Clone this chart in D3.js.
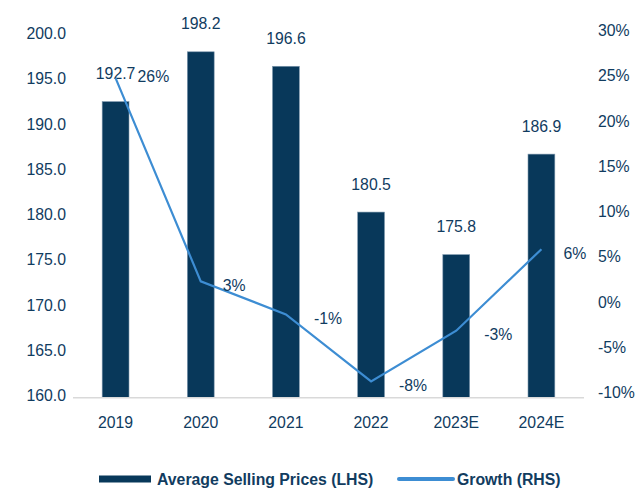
<!DOCTYPE html>
<html><head><meta charset="utf-8">
<script src="https://cdn.jsdelivr.net/npm/d3@7"></script>
<style>html,body{margin:0;padding:0;background:#fff;}svg{display:block;font-family:"Liberation Sans",Arial,Helvetica,sans-serif;}</style>
</head><body>
<svg id="c" width="636" height="489"></svg>
<script>
const categories = ["2019","2020","2021","2022","2023E","2024E"];
const prices = [192.7,198.2,196.6,180.5,175.8,186.9];
const growth = [25.3,2.85,-0.8,-8.2,-2.6,6.4];
const growthLabels = ["26%","3%","-1%","-8%","-3%","6%"];
const leftTicks = [160,165,170,175,180,185,190,195,200];
const rightTicks = [-10,-5,0,5,10,15,20,25,30];

const navy = "#08385a", blue = "#3d8dd3", txt = "#113c5f";
const fs = "15.8px";
const svg = d3.select("#c");
const plotTop = 35.5, plotBottom = 397.7, plotLeft = 73, plotRight = 584;

const x = d3.scaleBand().domain(categories).range([plotLeft, plotRight]).padding(0);
const yL = d3.scaleLinear().domain([160,200]).range([plotBottom, plotTop]);
const yR = d3.scaleLinear().domain([-10,30]).range([plotBottom, plotTop]);
const bw = x.bandwidth()*0.315;
const cx = d => x(d) + x.bandwidth()/2;

// left axis labels
svg.append("g").selectAll("text").data(leftTicks).join("text")
  .attr("x", 66).attr("y", d => yL(d) - 2).attr("dy","0.35em")
  .attr("text-anchor","end").attr("font-size",fs).attr("fill",txt)
  .text(d => d3.format(".1f")(d));
// right axis labels
svg.append("g").selectAll("text").data(rightTicks).join("text")
  .attr("x", 598).attr("y", d => yR(d) - 5).attr("dy","0.35em")
  .attr("text-anchor","start").attr("font-size",fs).attr("fill",txt)
  .text(d => d + "%");

// bars
svg.append("g").selectAll("rect").data(prices).join("rect")
  .attr("x", (d,i) => cx(categories[i]) - bw/2)
  .attr("y", d => yL(d))
  .attr("width", bw)
  .attr("height", d => yL(160) - yL(d))
  .attr("fill", navy).attr("stroke","#7d97ad").attr("stroke-width",0.6);

// baseline
svg.append("line").attr("x1", plotLeft).attr("x2", plotRight)
  .attr("y1", plotBottom).attr("y2", plotBottom)
  .attr("stroke","#d9d9d9").attr("stroke-width",1.5);

// bar value labels
svg.append("g").selectAll("text").data(prices).join("text")
  .attr("x", (d,i) => cx(categories[i]))
  .attr("y", d => yL(d) - 28).attr("dy","0.35em")
  .attr("text-anchor","middle").attr("font-size",fs).attr("fill",txt)
  .text(d => d3.format(".1f")(d));

// growth line
const line = d3.line().x((d,i) => cx(categories[i])).y(d => yR(d));
svg.append("path").datum(growth).attr("d", line)
  .attr("fill","none").attr("stroke",blue).attr("stroke-width",2.2);

// growth labels
svg.append("g").selectAll("text").data(growth).join("text")
  .attr("x", (d,i) => cx(categories[i]) + (d < 0 ? 28 : 22))
  .attr("y", (d,i) => yR(d) + (i === 0 ? -2 : 4)).attr("dy","0.35em")
  .attr("text-anchor","start").attr("font-size",fs).attr("fill",txt)
  .text((d,i) => growthLabels[i]);

// category labels
svg.append("g").selectAll("text").data(categories).join("text")
  .attr("x", d => cx(d)).attr("y", 422).attr("dy","0.35em")
  .attr("text-anchor","middle").attr("font-size",fs).attr("fill",txt)
  .text(d => d);

// legend
const lg = svg.append("g");
lg.append("rect").attr("x",99).attr("y",475.5).attr("width",52).attr("height",7).attr("fill",navy);
lg.append("text").attr("x",157).attr("y",479).attr("dy","0.35em")
  .attr("font-size",fs).attr("font-weight","bold").attr("fill",txt)
  .text("Average Selling Prices (LHS)");
lg.append("line").attr("x1",399).attr("x2",453).attr("y1",479).attr("y2",479)
  .attr("stroke",blue).attr("stroke-width",4).attr("stroke-linecap","round");
lg.append("text").attr("x",457).attr("y",479).attr("dy","0.35em")
  .attr("font-size",fs).attr("font-weight","bold").attr("fill",txt)
  .text("Growth (RHS)");
</script>
</body></html>
